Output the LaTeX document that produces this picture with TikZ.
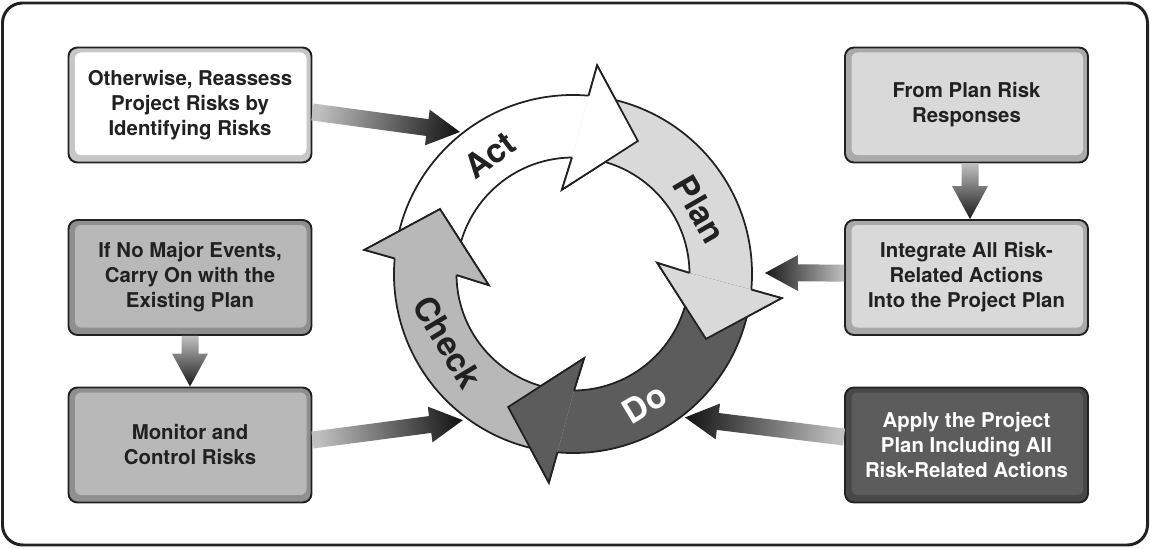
\documentclass[tikz,border=0pt]{standalone}
\usepackage{fontspec}
\setmainfont{TeX Gyre Heros}
\usetikzlibrary{calc}

\definecolor{actfill}{gray}{1.0}
\definecolor{planfill}{gray}{0.85}
\definecolor{dofill}{gray}{0.36}
\definecolor{checkfill}{gray}{0.72}
\definecolor{inkgray}{gray}{0.13}

\newcommand{\Ro}{3.58}
\newcommand{\Ri}{2.33}

\tikzset{
  riskbox/.style={draw=inkgray, line width=1.1pt, rounded corners=0.18cm,
    minimum width=4.86cm, minimum height=2.3cm, align=center, text=inkgray,
    font=\bfseries\fontsize{11.6}{14.2}\selectfont, fill=#1!78!black,
    path picture={\fill[#1, rounded corners=0.12cm]
      ([xshift=0.13cm,yshift=0.15cm]path picture bounding box.south west) rectangle
      ([xshift=-0.1cm,yshift=-0.1cm]path picture bounding box.north east);}},
  ringline/.style={draw=inkgray, line width=1pt, line join=miter},
  ringlabel/.style={font=\bfseries\fontsize{19}{20}\selectfont, text=inkgray},
  feedshade/.style={top color=black!90, bottom color=black!25},
}

% block arrow with a grey-to-black shading, from #1 to #2
\newcommand{\feedarrow}[2]{%
  \path let \p1=($(#2)-(#1)$) in \pgfextra{%
    \pgfmathsetmacro{\fang}{atan2(\y1,\x1)}\xdef\fang{\fang}%
    \pgfmathsetmacro{\fsang}{\fang-90}\xdef\fsang{\fsang}%
    \pgfmathsetmacro{\flen}{veclen(\x1,\y1)}%
    \pgfmathsetmacro{\fbase}{\flen-18.78}\xdef\fbase{\fbase}};
  \shade[feedshade, shading angle=\fsang]
    ($(#1)+(\fang-90:0.17cm)$) -- ($(#1)+(\fang:\fbase pt)+(\fang-90:0.17cm)$)
    -- ($(#1)+(\fang:\fbase pt)+(\fang-90:0.36cm)$) -- (#2)
    -- ($(#1)+(\fang:\fbase pt)+(\fang+90:0.36cm)$)
    -- ($(#1)+(\fang:\fbase pt)+(\fang+90:0.17cm)$)
    -- ($(#1)+(\fang+90:0.17cm)$) -- cycle;}

\begin{document}
\begin{tikzpicture}

    \useasboundingbox (0,0) rectangle (23,10.96);
    \draw[inkgray, line width=1.7pt, rounded corners=0.4cm] (0.05,0.06) rectangle (22.95,10.9);

    % boxes on the left
    \node[riskbox=actfill] (reassess) at (3.8, 8.86) {Otherwise, Reassess\\Project Risks by\\Identifying Risks};
    \node[riskbox=checkfill] (carryon) at (3.8, 5.41) {If No Major Events,\\Carry On with the\\Existing Plan};
    \node[riskbox=checkfill] (monitor) at (3.8, 2.06) {Monitor and\\Control Risks};

    % boxes on the right
    \node[riskbox=planfill] (responses) at (19.33, 8.86) {From Plan Risk\\Responses};
    \node[riskbox=planfill] (integrate) at (19.33, 5.41) {Integrate All Risk-\\Related Actions\\Into the Project Plan};
    \node[riskbox=dofill, text=white] (apply) at (19.33, 2.06) {Apply the Project\\Plan Including All\\Risk-Related Actions};

    % the cycle
    \coordinate (ctr) at (11.46, 5.48);
    \foreach \rot/\col in {0/actfill, -90/planfill, -180/dofill, -270/checkfill}{
      \begin{scope}[shift={(ctr)}, rotate=\rot]
        \draw[ringline, fill=\col] (175:\Ro) arc[start angle=175, end angle=85, radius=\Ro]
          -- (83.4:4.2) -- (64:2.96) -- (97.5:1.7) -- (90.5:\Ri)
          arc[start angle=90.5, end angle=180.5, radius=\Ri];
      \end{scope}
    }
    % heads again, over the tail of the next arrow
    \foreach \rot/\col in {0/actfill, -90/planfill, -180/dofill, -270/checkfill}{
      \begin{scope}[shift={(ctr)}, rotate=\rot]
        \draw[ringline, fill=\col] (85:\Ro) -- (83.4:4.2) -- (64:2.96) -- (97.5:1.7) -- (90.5:\Ri);
      \end{scope}
    }

    \node[ringlabel, rotate=37] (actlbl) at ($(ctr)+(125:2.9)$) {Act};
    \node[ringlabel, rotate=-60] (planlbl) at ($(ctr)+(27:2.85)$) {Plan};
    \node[ringlabel, rotate=31, text=white] (dolbl) at ($(ctr)+(-61:2.96)$) {Do};
    \node[ringlabel, rotate=-59] (checklbl) at ($(ctr)+(208.4:2.85)$) {Check};

    % where the feeding arrows meet the cycle
    \coordinate (actin) at ($(ctr)+(128.5:3.63)$);
    \coordinate (checkin) at ($(ctr)+(233:3.66)$);
    \coordinate (doin) at ($(ctr)+(-52:3.64)$);
    \coordinate (planin) at ($(ctr)+(0.3:3.84)$);

    \feedarrow{[yshift=-0.14cm]reassess.east}{actin}
    \feedarrow{[yshift=0.1cm]monitor.east}{checkin}
    \feedarrow{[yshift=0.16cm]apply.west}{doin}
    \feedarrow{[yshift=0.09cm]integrate.west}{planin}
    \feedarrow{carryon.south}{monitor.north}
    \feedarrow{[xshift=0.07cm]responses.south}{[xshift=0.07cm]integrate.north}

\end{tikzpicture}
\end{document}
